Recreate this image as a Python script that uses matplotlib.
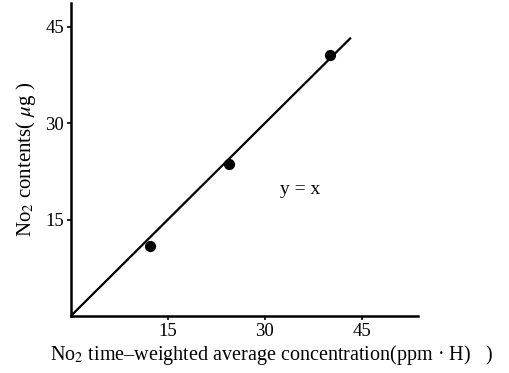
import matplotlib
matplotlib.use("Agg")
import matplotlib.pyplot as plt

# Data
conc_x = [12.2, 24.5, 40.0]
contents_y = [10.9, 23.7, 40.6]
fit_x = [0, 43.3]
fit_y = [0, 43.3]
ticks = [15, 30, 45]
tick_labels = ["15", "30", "45"]

plt.rcParams['font.family'] = ['Liberation Serif', 'DejaVu Serif']
plt.rcParams['mathtext.fontset'] = 'stix'

fig = plt.figure(figsize=(5.10, 3.73), dpi=100)
ax = fig.add_axes([0.139, 0.153, 0.681, 0.839])

ax.plot(fit_x, fit_y, color='black', lw=1.6, solid_capstyle='butt')
ax.scatter(conc_x, contents_y, s=50, color='black', zorder=3)

ax.set_xlim(0, 53.7)
ax.set_ylim(0, 48.7)
ax.set_xticks(ticks)
ax.set_xticklabels(tick_labels)
ax.set_yticks(ticks)
ax.set_yticklabels(tick_labels)

for side in ['top', 'right']:
    ax.spines[side].set_visible(False)
for side in ['left', 'bottom']:
    ax.spines[side].set_linewidth(1.8)

ax.tick_params(axis='both', direction='out', length=3, width=1.2, labelsize=13.5, pad=2)

ax.text(35.4, 19.6, "y = x", fontsize=14, ha='center', va='center')

ax.set_xlabel(r"No$_2$ time–weighted average concentration(ppm · H)   )", fontsize=14.5, labelpad=1)
ax.xaxis.set_label_coords(0.578, -0.088)
ax.xaxis.label.set_va('top')
ax.set_ylabel(r"No$_2$ contents( $\mu$g )", fontsize=15, labelpad=5)

fig.savefig("out.png", dpi=100)
